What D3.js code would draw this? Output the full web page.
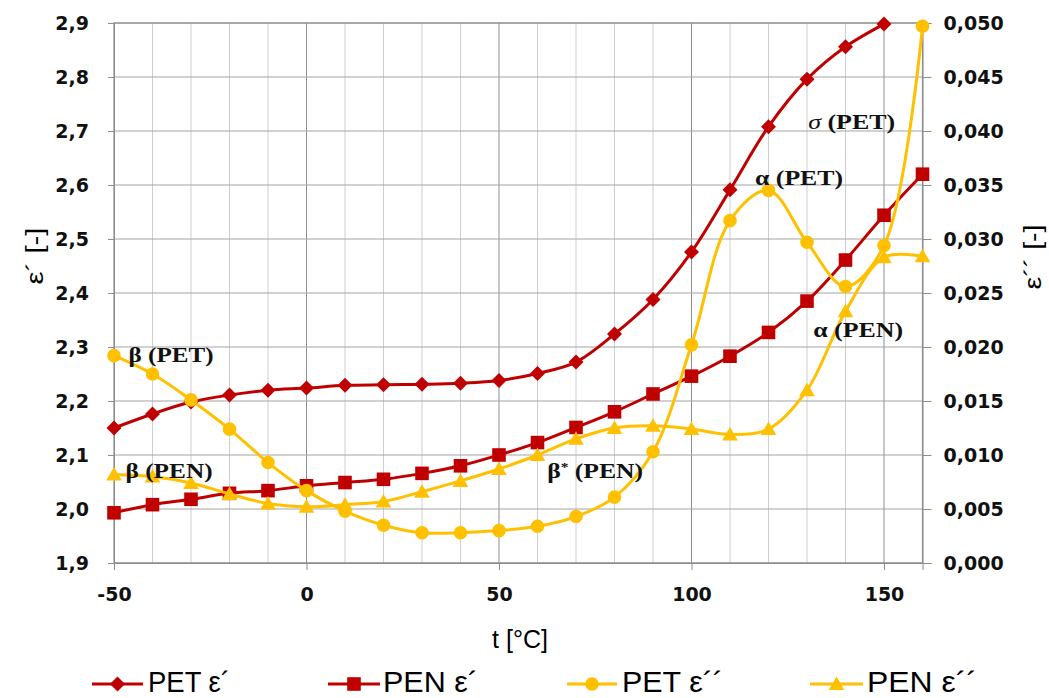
<!DOCTYPE html>
<html><head><meta charset="utf-8">
<script src="https://cdn.jsdelivr.net/npm/d3@7"></script>
<style>
html,body{margin:0;padding:0;background:#fff;}
svg{display:block;}
</style></head>
<body>
<svg id="chart" width="1049" height="698"></svg>
<script>
// ---------- data ----------
const temps = [-50,-40,-30,-20,-10,0,10,20,30,40,50,60,70,80,90,100,110,120,130,140,150,160];
const petEpsPrime = [2.150,2.176,2.198,2.211,2.220,2.224,2.229,2.230,2.231,2.233,2.238,2.251,2.272,2.324,2.388,2.476,2.591,2.708,2.796,2.856,2.898];
const penEpsPrime = [1.993,2.008,2.018,2.029,2.034,2.043,2.049,2.055,2.066,2.080,2.100,2.123,2.151,2.180,2.213,2.246,2.283,2.327,2.385,2.461,2.544,2.620];
const petEpsDouble = [0.0192,0.0175,0.0151,0.0124,0.0093,0.0067,0.0048,0.0035,0.0028,0.0028,0.0030,0.0034,0.0043,0.0061,0.0103,0.0202,0.0317,0.0345,0.0297,0.0256,0.0294,0.0497];
const penEpsDouble = [0.0082,0.0080,0.0074,0.0064,0.0055,0.0052,0.0054,0.0057,0.0066,0.0076,0.0087,0.0100,0.0115,0.0125,0.0127,0.0124,0.0119,0.0124,0.0160,0.0233,0.0283,0.0284];
const leftTicks = [1.9,2.0,2.1,2.2,2.3,2.4,2.5,2.6,2.7,2.8,2.9];
const rightTicks = [0,0.005,0.010,0.015,0.020,0.025,0.030,0.035,0.040,0.045,0.050];
const xTicks = [-50,0,50,100,150];
const seriesNames = ["PET ε´","PEN ε´","PET ε´´","PEN ε´´"];
const annotationTexts = ["β (PET)","β (PEN)","β* (PEN)","α (PET)","σ (PET)","α (PEN)"];
const annotationT = [-46.2,-47,62.5,116.5,130.3,131.6];
const annotationEps = [2.272,2.057,2.057,2.600,2.704,2.318];

// ---------- layout ----------
const RED = "#C00000", GOLD = "#FFC000";
const svg = d3.select("#chart");
const L = 114, R = 922.5, T = 23, B = 563;
const x = d3.scaleLinear().domain([-50,160]).range([L,R]);
const yL = d3.scaleLinear().domain([1.9,2.9]).range([B,T]);
const yR = d3.scaleLinear().domain([0,0.05]).range([B,T]);
const commaFmt = f => v => d3.format(f)(v).replace(".", ",");

// grid
const g = svg.append("g");
d3.range(-40,161,10).forEach(t=>{
  const major = (t % 50 === 0);
  g.append("line").attr("x1",x(t)).attr("x2",x(t)).attr("y1",T).attr("y2",B)
    .attr("stroke", major ? "#8f8f8f" : "#cfcfcf").attr("stroke-width",1);
});
leftTicks.forEach(v=>{
  g.append("line").attr("x1",L).attr("x2",R).attr("y1",yL(v)).attr("y2",yL(v))
    .attr("stroke","#a3a3a3").attr("stroke-width",1);
});
g.append("rect").attr("x",L).attr("y",T).attr("width",R-L).attr("height",B-T)
  .attr("fill","none").attr("stroke","#8c8c8c").attr("stroke-width",1.2);

// axes
const tickFont = sel => sel.selectAll("text")
  .attr("font-family","'DejaVu Sans', Verdana, sans-serif")
  .attr("font-weight","bold").attr("font-size","19px").attr("fill","#111");
const axL = svg.append("g").attr("transform",`translate(${L},0)`)
  .call(d3.axisLeft(yL).tickValues(leftTicks).tickFormat(commaFmt(".1f")).tickSize(6).tickPadding(19));
const axR = svg.append("g").attr("transform",`translate(${R},0)`)
  .call(d3.axisRight(yR).tickValues(rightTicks).tickFormat(commaFmt(".3f")).tickSize(9).tickPadding(12));
const axB = svg.append("g").attr("transform",`translate(0,${B})`)
  .call(d3.axisBottom(x).tickValues(xTicks).tickFormat(d3.format("d")).tickSize(7).tickPadding(18));
[axL,axR,axB].forEach(a=>{
  a.select(".domain").attr("stroke","#8c8c8c");
  a.selectAll(".tick line").attr("stroke","#8c8c8c");
  tickFont(a);
});
axB.selectAll("text").text(d => d < 0 ? "-" + Math.abs(d) : d);

// axis titles
svg.append("text").attr("transform","translate(43,256) rotate(-90)")
  .attr("text-anchor","middle").attr("font-family","'Liberation Sans', Arial, sans-serif")
  .attr("font-size","23px").attr("textLength",57).attr("lengthAdjust","spacingAndGlyphs")
  .text("ε´ [-]");
svg.append("text").attr("transform","translate(1041,257) rotate(-90)")
  .attr("text-anchor","middle").attr("font-family","'Liberation Sans', Arial, sans-serif")
  .attr("font-size","23px").attr("textLength",65).attr("lengthAdjust","spacingAndGlyphs")
  .text("ε´´ [-]");
svg.append("text").attr("x",520).attr("y",648)
  .attr("text-anchor","middle").attr("font-family","'Liberation Sans', Arial, sans-serif")
  .attr("font-size","25px").attr("textLength",56).attr("lengthAdjust","spacingAndGlyphs")
  .text("t [°C]");

// series
const curve = d3.curveCatmullRom.alpha(0.5);
const series = [
  {name:seriesNames[0], vals:petEpsPrime, y:yL, color:RED, marker:"diamond"},
  {name:seriesNames[1], vals:penEpsPrime, y:yL, color:RED, marker:"square"},
  {name:seriesNames[2], vals:petEpsDouble, y:yR, color:GOLD, marker:"circle"},
  {name:seriesNames[3], vals:penEpsDouble, y:yR, color:GOLD, marker:"triangle"}
];
function markerPath(type){
  if(type==="diamond") return "M0,-7.5L7.5,0L0,7.5L-7.5,0Z";
  if(type==="square") return "M-6.8,-6.8H6.8V6.8H-6.8Z";
  if(type==="circle") return d3.symbol(d3.symbolCircle, Math.PI*6.8*6.8)();
  return "M0,-7.5L7.8,6L-7.8,6Z";
}
series.forEach(s=>{
  const pts = s.vals.map((v,i)=>[temps[i], v]);
  svg.append("path").datum(pts)
    .attr("fill","none").attr("stroke",s.color).attr("stroke-width",3)
    .attr("d", d3.line().x(d=>x(d[0])).y(d=>s.y(d[1])).curve(curve));
  svg.append("g").selectAll("path").data(pts).join("path")
    .attr("d", markerPath(s.marker))
    .attr("transform", d=>`translate(${x(d[0])},${s.y(d[1])})`)
    .attr("fill", s.color);
});

// annotations
const annWidths = [85,87,96,88,87,90];
annotationTexts.forEach((t,i)=>{
  const txt = svg.append("text").attr("x",x(annotationT[i])).attr("y",yL(annotationEps[i]))
    .attr("font-family","'Liberation Serif','Times New Roman',serif")
    .attr("font-weight","bold").attr("font-size","20px").attr("fill","#111")
    .attr("textLength",annWidths[i]).attr("lengthAdjust","spacingAndGlyphs");
  if(t.startsWith("β*")){
    txt.append("tspan").text("β");
    txt.append("tspan").attr("dy",-7).attr("font-size","12px").text("*");
    txt.append("tspan").attr("dy",7).text(" (PEN)");
  } else if(t.startsWith("σ")){
    txt.append("tspan").attr("font-style","italic").attr("font-weight","normal").text("σ");
    txt.append("tspan").text(t.slice(1));
  } else txt.text(t);
});

// legend
const legend = [
  {x1:92, x2:143, tx:148, tw:82},
  {x1:328, x2:380, tx:383, tw:95},
  {x1:567, x2:617, tx:622, tw:101},
  {x1:810, x2:863, tx:867, tw:110}
];
legend.forEach((l,i)=>{
  const s = series[i];
  const lg = svg.append("g");
  lg.append("line").attr("x1",l.x1).attr("x2",l.x2).attr("y1",684).attr("y2",684)
    .attr("stroke",s.color).attr("stroke-width",3);
  lg.append("path").attr("d",markerPath(s.marker))
    .attr("transform",`translate(${(l.x1+l.x2)/2},684)`).attr("fill",s.color);
  lg.append("text").attr("x",l.tx).attr("y",692)
    .attr("font-family","'Liberation Sans', Arial, sans-serif").attr("font-size","29px")
    .attr("textLength",l.tw).attr("lengthAdjust","spacingAndGlyphs").attr("fill","#000")
    .text(s.name);
});
</script>
</body></html>
